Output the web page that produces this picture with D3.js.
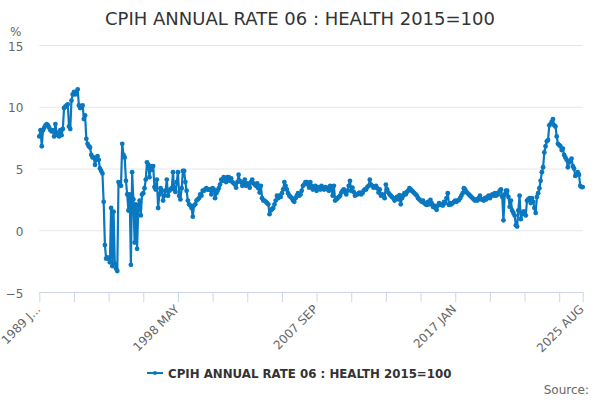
<!DOCTYPE html>
<html>
<head>
<meta charset="utf-8">
<script src="https://cdn.jsdelivr.net/npm/d3@7"></script>
<style>
  html, body { margin: 0; padding: 0; background: #fff; }
  svg { display: block; font-family: 'DejaVu Sans', Verdana, sans-serif; }
</style>
</head>
<body>
<div id="graph-container"></div>
<script>
// Chart data: monthly annual rate, Jan 1989 to Aug 2025
const START_YEAR = 1989;
const MONTHS = ['JAN', 'FEB', 'MAR', 'APR', 'MAY', 'JUN', 'JUL', 'AUG', 'SEP', 'OCT', 'NOV', 'DEC'];

const healthRate = [
  // 1989
  7.6, 8.1, 6.8, 8.1, 8.3, 8.5, 8.6, 8.5, 8.3, 8.1, 8.0, 8.1,
  // 1990
  7.6, 8.6, 7.9, 7.7, 7.6, 8.1, 7.7, 8.2, 9.9, 10.0, 10.1, 10.2,
  // 1991
  8.4, 8.2, 10.5, 11.0, 11.2, 11.0, 11.2, 11.4, 10.1, 9.9, 10.0, 10.1,
  // 1992
  9.0, 9.3, 7.4, 7.0, 6.8, 6.7, 6.1, 5.9, 5.9, 5.3, 5.7, 6.0,
  // 1993
  5.7, 5.0, 4.8, 4.6, 2.3, -1.2, -2.3, -2.2, -2.3, -2.6, 1.8, -2.9,
  // 1994
  1.5, -2.7, -3.1, -3.3, 3.9, 3.7, 3.6, 7.0, 6.1, 5.9, 4.0, 2.9,
  // 1995
  1.6, 2.9, -2.8, 4.7, 2.5, -1.0, 2.1, -1.5, 2.0, 2.4, 1.2, 2.9,
  // 1996
  3.0, 3.4, 4.1, 5.5, 5.3, 4.3, 5.2, 4.9, 5.2, 3.5, 3.3, 4.1,
  // 1997
  1.8, 2.9, 3.4, 3.2, 2.4, 2.8, 3.2, 4.1, 2.8, 3.2, 3.3, 3.4,
  // 1998
  4.7, 3.3, 3.1, 3.9, 4.7, 2.8, 2.5, 3.4, 4.8, 4.8, 3.9, 3.2,
  // 1999
  2.4, 2.1, 2.0, 1.8, 1.1, 2.0, 2.1, 2.4, 2.5, 2.6, 2.9, 2.8,
  // 2000
  3.2, 3.2, 3.3, 3.4, 3.3, 3.3, 3.3, 2.9, 3.4, 3.3, 2.6, 3.0,
  // 2001
  3.2, 3.4, 3.7, 4.1, 4.0, 4.3, 4.0, 3.9, 4.3, 4.3, 4.0, 4.2,
  // 2002
  3.9, 3.8, 3.7, 3.45, 3.9, 4.5, 4.0, 3.9, 3.6, 3.8, 4.1, 3.6,
  // 2003
  3.8, 3.7, 3.45, 3.9, 4.1, 3.8, 3.7, 3.6, 3.8, 3.4, 3.05, 3.6,
  // 2004
  2.6, 2.4, 2.4, 2.3, 2.2, 2.1, 1.3, 1.6, 1.7, 1.8, 2.1, 2.4,
  // 2005
  2.8, 2.6, 2.8, 2.7, 3.0, 3.3, 3.9, 3.6, 3.3, 3.0, 2.8, 2.7,
  // 2006
  2.6, 2.4, 2.3, 2.6, 2.8, 3.0, 2.8, 2.9, 3.2, 3.6, 3.7, 3.9,
  // 2007
  3.9, 3.7, 3.45, 3.9, 3.6, 3.3, 3.45, 3.6, 3.2, 3.5, 3.45, 3.3,
  // 2008
  3.6, 3.4, 3.3, 3.5, 3.45, 3.3, 3.2, 3.6, 3.4, 2.8, 3.6, 2.4,
  // 2009
  2.5, 2.6, 2.7, 2.8, 3.05, 3.2, 3.3, 3.1, 2.9, 3.2, 3.6, 4.0,
  // 2010
  3.2, 3.45, 3.1, 2.8, 2.9, 2.9, 3.0, 3.05, 2.9, 3.0, 3.2, 3.3,
  // 2011
  3.3, 3.5, 3.6, 4.1, 3.7, 3.6, 3.45, 3.5, 3.6, 3.4, 3.05, 3.3,
  // 2012
  2.8, 2.9, 2.8, 2.6, 3.7, 3.3, 3.05, 2.9, 2.8, 2.7, 2.6, 2.4,
  // 2013
  2.6, 2.7, 2.5, 2.85, 2.1, 2.6, 2.8, 3.0, 2.9, 3.1, 3.2, 3.4,
  // 2014
  3.3, 3.2, 3.1, 3.0, 2.9, 2.8, 2.6, 2.5, 2.4, 2.3, 2.4, 2.2,
  // 2015
  2.1, 2.05, 2.3, 2.1, 2.45, 2.2, 1.9, 2.0, 1.8, 1.65, 2.0, 2.2,
  // 2016
  2.1, 2.05, 2.0, 2.3, 2.2, 2.6, 3.0, 2.05, 2.2, 2.1, 2.2, 2.3,
  // 2017
  2.4, 2.3, 2.4, 2.45, 2.6, 2.8, 3.0, 3.4, 3.3, 3.1, 3.0, 2.9,
  // 2018
  2.8, 2.7, 2.6, 2.5, 2.4, 2.5, 2.4, 2.6, 2.8, 2.5, 2.5, 2.4,
  // 2019
  2.6, 2.5, 2.7, 2.8, 2.6, 2.8, 2.9, 2.8, 3.0, 2.8, 3.0, 2.9,
  // 2020
  3.2, 3.3, 2.7, 0.8, 2.9, 3.2, 3.2, 2.7, 1.9, 2.4, 1.6, 1.4,
  // 2021
  1.2, 0.4, 0.3, 1.6, 2.8, 0.9, 1.3, 1.5, 1.5, 1.2, 2.4, 2.5,
  // 2022
  2.6, 2.2, 2.6, 2.3, 1.8, 1.4, 2.7, 3.0, 3.4, 4.0, 4.7, 5.1,
  // 2023
  6.3, 6.8, 7.2, 7.3, 8.5, 8.6, 8.8, 9.0, 8.5, 8.4, 7.6, 7.0,
  // 2024
  6.9, 6.8, 6.5, 6.6, 6.1, 5.9, 5.7, 5.1, 5.5, 5.6, 5.8, 5.2,
  // 2025
  5.0, 4.4, 4.5, 4.7, 4.5, 3.6, 3.5, 3.5,
];

const yTicks = [-5, 0, 5, 10, 15];
const xLabels = ['1989 J...', '1998 MAY', '2007 SEP', '2017 JAN', '2025 AUG'];
const xLabelMonths = ['1989 JAN', '1998 MAY', '2007 SEP', '2017 JAN', '2025 AUG'];

const SERIES_NAME = 'CPIH ANNUAL RATE 06 : HEALTH 2015=100';
const LINE_COLOR = '#0a78c0';

// Month categories built from the start year
const monthNames = healthRate.map(
  (v, i) => `${START_YEAR + Math.floor(i / 12)} ${MONTHS[i % 12]}`,
);
const points = healthRate.map((v, i) => ({ month: monthNames[i], value: v }));

const width = 600;
const height = 400;
const plotLeft = 39.3;
const plotRight = 582.7;

const svg = d3
  .select('#graph-container')
  .append('svg')
  .attr('width', width)
  .attr('height', height);

const xscale = d3.scalePoint().domain(monthNames).range([plotLeft, plotRight]);

const yscale = d3.scaleLinear().domain([-5, 15]).range([292, 45]);

// Title
svg
  .append('text')
  .attr('x', width / 2)
  .attr('y', 25)
  .attr('text-anchor', 'middle')
  .style('font-size', '18px')
  .style('fill', '#333')
  .text(SERIES_NAME);

// Gridlines + y labels
const yAxis = d3
  .axisLeft(yscale)
  .tickValues(yTicks)
  .tickSize(-(plotRight - plotLeft))
  .tickPadding(16);

const yAxisG = svg
  .append('g')
  .attr('transform', `translate(${plotLeft}, 0)`)
  .call(yAxis);
yAxisG.select('.domain').remove();
yAxisG.selectAll('line').attr('stroke', '#e6e6e6');
yAxisG
  .selectAll('text')
  .attr('dy', '0.75em')
  .attr('y', -4)
  .style('font-size', '12px')
  .style('fill', '#666')
  .style('font-family', "'DejaVu Sans', sans-serif");

svg
  .append('text')
  .attr('x', 10)
  .attr('y', 36)
  .style('font-size', '12px')
  .style('fill', '#666')
  .text('%');

// X axis: tick every 28 months plus the final month
const tickMonths = monthNames.filter((m, i) => i % 28 === 0);
tickMonths.push(monthNames[monthNames.length - 1]);

const xAxis = d3.axisBottom(xscale).tickValues(tickMonths).tickSize(10).tickFormat('');
const xAxisG = svg
  .append('g')
  .attr('transform', `translate(0, ${yscale(-5)})`)
  .call(xAxis);
xAxisG.select('.domain').attr('stroke', '#ccd6eb').attr('d', `M${plotLeft},0.5H${plotRight}`);
xAxisG.selectAll('line').attr('stroke', '#ccd6eb');

svg
  .append('g')
  .selectAll('text')
  .data(xLabels)
  .enter()
  .append('text')
  .attr(
    'transform',
    (d, i) => `translate(${xscale(xLabelMonths[i]) + 2}, ${yscale(-5) + 18}) rotate(-45)`,
  )
  .attr('text-anchor', 'end')
  .style('font-size', '12px')
  .style('fill', '#666')
  .text((d) => d);

// Series line and markers
const line = d3
  .line()
  .x((d) => xscale(d.month))
  .y((d) => yscale(d.value));

svg
  .append('path')
  .datum(points)
  .attr('fill', 'none')
  .attr('stroke', LINE_COLOR)
  .attr('stroke-width', 2.2)
  .attr('stroke-linejoin', 'round')
  .attr('d', line);

svg
  .append('g')
  .selectAll('circle')
  .data(points)
  .enter()
  .append('circle')
  .attr('cx', (d) => xscale(d.month))
  .attr('cy', (d) => yscale(d.value))
  .attr('r', 2.4)
  .attr('fill', LINE_COLOR);

// Legend
const legend = svg.append('g').attr('id', 'legend');
legend
  .append('line')
  .attr('x1', 147)
  .attr('x2', 163)
  .attr('y1', 373)
  .attr('y2', 373)
  .attr('stroke', LINE_COLOR)
  .attr('stroke-width', 2);
legend.append('circle').attr('cx', 155).attr('cy', 373).attr('r', 2).attr('fill', LINE_COLOR);
legend
  .append('text')
  .attr('x', 168)
  .attr('y', 378)
  .style('font-size', '11.8px')
  .style('font-weight', 'bold')
  .style('fill', '#333')
  .text(SERIES_NAME);

// Source credit
svg
  .append('text')
  .attr('x', 589)
  .attr('y', 394)
  .attr('text-anchor', 'end')
  .style('font-size', '12px')
  .style('fill', '#666')
  .text('Source:');
</script>
</body>
</html>
